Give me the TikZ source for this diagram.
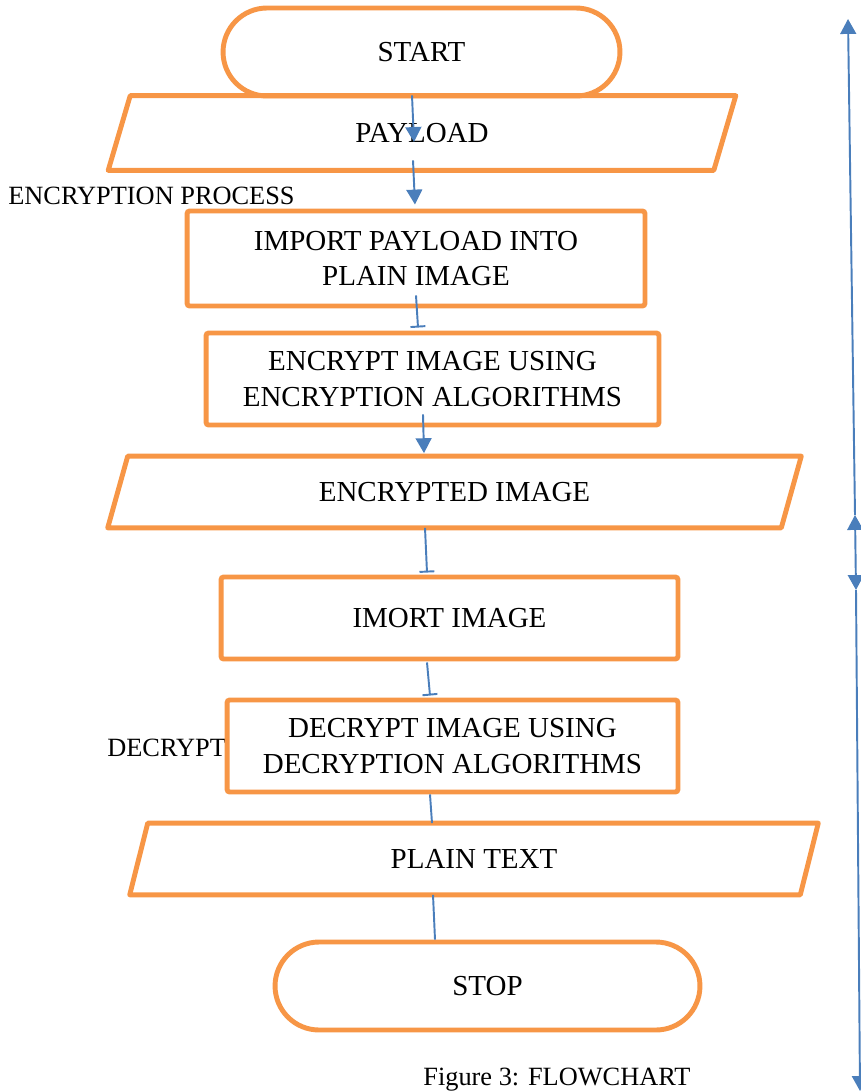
\documentclass[tikz,border=0pt]{standalone}
\usepackage{fontspec}
\setmainfont{Liberation Serif}
\usetikzlibrary{shapes.misc,arrows.meta,calc}
\definecolor{boxorange}{HTML}{F79646}
\definecolor{linkblue}{HTML}{4A7EBB}
\tikzset{
  boxtext/.style={font=\fontsize{16.5}{20}\selectfont, align=center, inner sep=0pt},
  procbox/.style={boxtext, draw=boxorange, line width=2.8pt, fill=white, rounded corners=1.5pt},
  termbox/.style={boxtext, rounded rectangle, draw=boxorange, line width=2.8pt, fill=white},
  iobox/.style={boxtext},
  ioline/.style={draw=boxorange, line width=2.8pt, line join=round},
  sidelabel/.style={font=\fontsize{15}{18}\selectfont, anchor=west, inner sep=0pt},
  link/.style={draw=linkblue, line width=1.1pt},
  tri/.tip={Triangle[width=9pt,length=8.5pt]},
  flat/.tip={Bar[width=8.5pt]}
}

\begin{document}
\begin{tikzpicture}[x=0.02cm,y=-0.02cm]
\useasboundingbox (0,0) rectangle (861,1092);

% labels on the left
\node[sidelabel] (enclabel) at (8,196) {ENCRYPTION PROCESS};
\node[sidelabel] (declabel) at (107,748) {DECRYPT};

\node[termbox, minimum width=7.94cm, minimum height=1.76cm] (start) at (421.5,52) {START};
\node[iobox, minimum width=12.1cm, minimum height=1.48cm] (pay) at (422,133) {PAYLOAD};
\node[procbox, minimum width=9.16cm, minimum height=1.9cm] (imp) at (416,258.5) {IMPORT PAYLOAD INTO\\PLAIN IMAGE};
\node[procbox, minimum width=9.06cm, minimum height=1.84cm] (enc) at (432.5,379) {ENCRYPT IMAGE USING\\ENCRYPTION ALGORITHMS};
\node[iobox, minimum width=13.46cm, minimum height=1.42cm] (encimg) at (454.5,492) {ENCRYPTED IMAGE};
\node[procbox, minimum width=9.14cm, minimum height=1.64cm] (imo) at (449.5,618) {IMORT IMAGE};
\node[procbox, minimum width=9.02cm, minimum height=1.84cm] (dec) at (452.5,746) {DECRYPT IMAGE USING\\DECRYPTION ALGORITHMS};
\node[iobox, minimum width=13.4cm, minimum height=1.42cm] (plain) at (474,859) {PLAIN TEXT};
\node[termbox, minimum width=8.5cm, minimum height=1.76cm] (stop) at (487.5,986) {STOP};

% slanted input/output boxes
\draw[ioline] ($(pay.north west)+(11,0)$) -- ($(pay.north east)+(11,0)$) -- ($(pay.south east)+(-11,0)$) -- ($(pay.south west)+(-11,0)$) -- cycle;
\draw[ioline] ($(encimg.north west)+(10,0)$) -- ($(encimg.north east)+(10,0)$) -- ($(encimg.south east)+(-10,0)$) -- ($(encimg.south west)+(-10,0)$) -- cycle;
\draw[ioline] ($(plain.north west)+(9,0)$) -- ($(plain.north east)+(9,0)$) -- ($(plain.south east)+(-9,0)$) -- ($(plain.south west)+(-9,0)$) -- cycle;

% connectors
\draw[link,-tri] ($(start.south)+(-9.5,-3)$) -- ($(pay.center)+(-8,9)$);
\draw[link,-tri] ($(pay.south)+(-9,-10)$) -- ($(imp.north)+(-1,-4)$);
\draw[link,-flat] ($(imp.south)+(0,-13)$) -- ($(enc.north)+(-14.5,-3)$);
\draw[link,-tri] ($(enc.south)+(-9.5,-13)$) -- ($(encimg.north)+(-30.5,-3)$);
\draw[link,-flat] ($(encimg.south)+(-29.5,0)$) -- ($(imo.north)+(-22.5,-2)$);
\draw[link,-flat] ($(imo.south)+(-22.5,1)$) -- ($(dec.north)+(-22.5,-2)$);
\draw[link] ($(dec.south)+(-22.5,0)$) -- ($(plain.north)+(-42,0)$);
\draw[link] ($(plain.south)+(-41,0)$) -- ($(stop.north)+(-52.5,0)$);

% arrows on the right
\coordinate (upend) at (848,19);
\coordinate (midtop) at (855,515);
\coordinate (midbot) at (856,590);
\coordinate (lowend) at (860,1091);
\draw[link,-tri] (midtop) -- (upend);
\draw[link,tri-tri] (midtop) -- (midbot);
\draw[link,-tri] (midbot) -- (lowend);

\node[font=\fontsize{15}{18}\selectfont, anchor=base west, inner sep=0pt] (caption) at (423,1085) {Figure 3: FLOWCHART};
\end{tikzpicture}
\end{document}
